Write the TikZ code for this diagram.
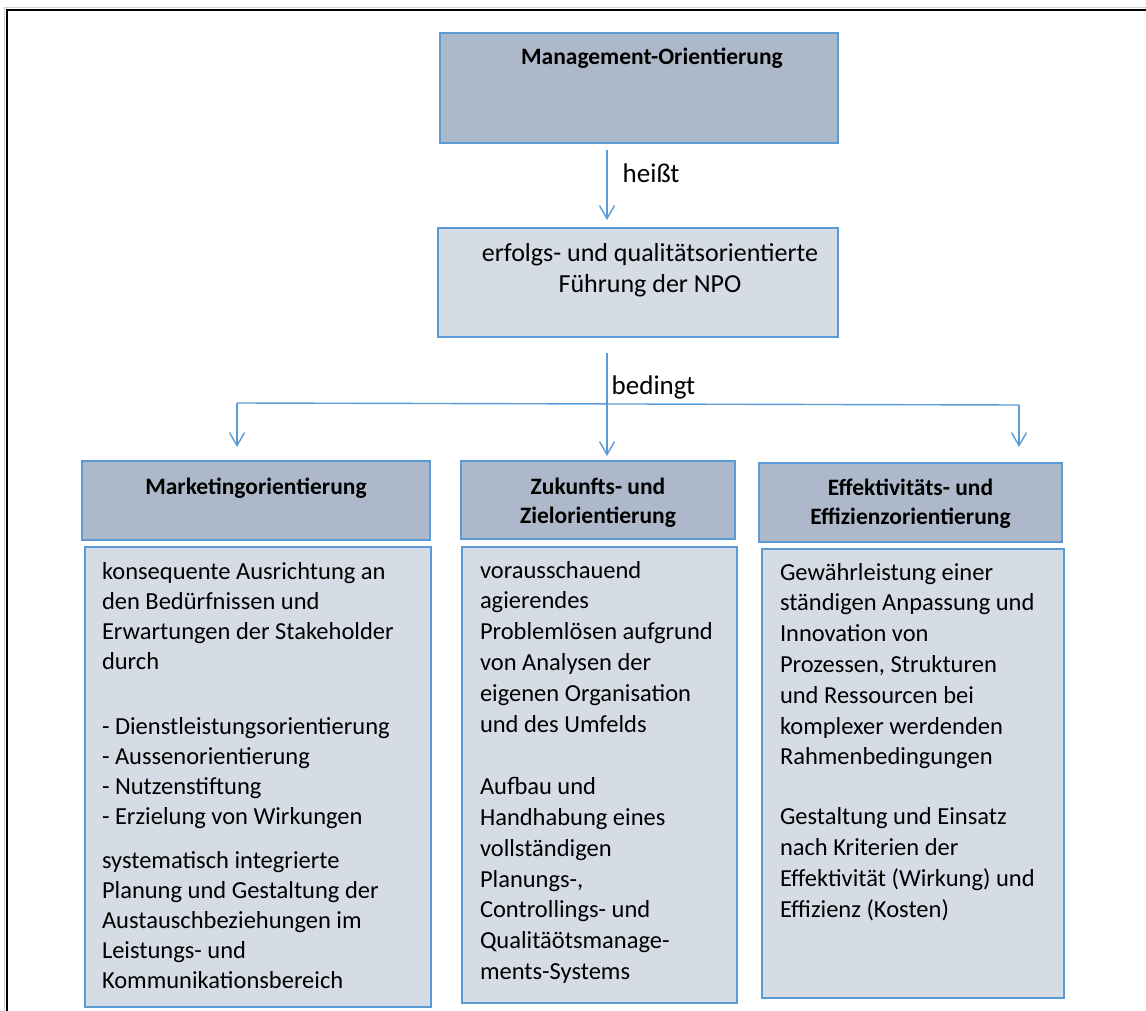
\documentclass[tikz,border=0pt]{standalone}
\usepackage{fontspec}
\setmainfont{Carlito}
\usepackage{tikz}
\usetikzlibrary{arrows.meta}
\usetikzlibrary{positioning}
\definecolor{boxline}{RGB}{91,155,213}
\definecolor{darkfill}{RGB}{173,185,202}
\definecolor{lightfill}{RGB}{214,220,229}
\tikzset{
    box/.style={
           rectangle,
           draw=boxline, line width=1.5pt,
           inner sep=0pt, outer sep=0pt,
           anchor=north west,
           },
    headbox/.style={box, fill=darkfill, font=\fontsize{23.5}{28.5}\selectfont\bfseries},
    textbox/.style={box, fill=lightfill, font=\fontsize{24.5}{30}\selectfont},
    link/.style={draw=boxline, line width=1.4pt},
    lbl/.style={anchor=west, inner sep=0pt, font=\fontsize{27}{32}\selectfont},
}
\newcommand{\boxtext}[5]{\hspace*{#1}\parbox[c][#2][t]{#3}{\rule{0pt}{#4}#5}}

\begin{document}
\begin{tikzpicture}[->,>={Straight Barb[length=13pt,width=15pt]},x=1pt,y=-1pt]

 \useasboundingbox (0,0) rectangle (1146,1011);
 \draw[-, gray!35, line width=1pt] (4.8,1011) -- (4.8,7.3) -- (1146,7.3);
 \draw[-, line width=2.5pt] (7,1011) -- (7,9.8) -- (1146,9.8);

 \node[headbox] (mgmt) at (440,33)
 {\boxtext{26pt}{110pt}{372pt}{31.5pt}{\centering Management-Orientierung}};
 \node[textbox, font=\fontsize{26}{31}\selectfont] (fuehrung) at (438,228)
 {\boxtext{24pt}{109pt}{376pt}{33pt}{\centering erfolgs- und qualitätsorientierte\\ Führung der NPO}};

 \node[headbox] (marketing) at (82,461)
 {\boxtext{0pt}{79pt}{348pt}{33.5pt}{\centering Marketingorientierung}};
 \node[headbox] (zukunft) at (461,461)
 {\boxtext{0pt}{78pt}{274pt}{33.5pt}{\centering Zukunfts- und\\ Zielorientierung}};
 \node[headbox] (effizienz) at (759,463)
 {\boxtext{0pt}{79pt}{303pt}{32.5pt}{\centering Effektivitäts- und\\ Effizienzorientierung}};

 \node[textbox] (marketingtext) at (85,547)
 {\boxtext{17pt}{460pt}{329pt}{32pt}{\raggedright
  konsequente Ausrichtung an\\
  den Bedürfnissen und\\
  Erwartungen der Stakeholder\\
  durch\\[35pt]
  - Dienstleistungsorientierung\\
  - Aussenorientierung\\
  - Nutzenstiftung\\
  - Erzielung von Wirkungen\\[14pt]
  systematisch integrierte\\
  Planung und Gestaltung der\\
  Austauschbeziehungen im\\
  Leistungs- und\\
  Kommunikationsbereich}};
 \node[textbox, font=\fontsize{24.5}{30.9}\selectfont] (zukunfttext) at (462,547)
 {\boxtext{18pt}{456pt}{257pt}{31pt}{\raggedright
  vorausschauend\\
  agierendes\\
  Problemlösen aufgrund\\
  von Analysen der\\
  eigenen Organisation\\
  und des Umfelds\\[30.9pt]
  Aufbau und\\
  Handhabung eines\\
  vollständigen\\
  Planungs-,\\
  Controllings- und\\
  Qualitäötsmanage-\\
  ments-Systems}};
 \node[textbox, font=\fontsize{24.5}{30.8}\selectfont] (effizienztext) at (762,549)
 {\boxtext{18pt}{449pt}{284pt}{31pt}{\raggedright
  Gewährleistung einer\\
  ständigen Anpassung und\\
  Innovation von\\
  Prozessen, Strukturen\\
  und Ressourcen bei\\
  komplexer werdenden\\
  Rahmenbedingungen\\[29pt]
  Gestaltung und Einsatz\\
  nach Kriterien der\\
  Effektivität (Wirkung) und\\
  Effizienz (Kosten)}};

 \coordinate (split) at (607,403);
 \coordinate (lsplit) at (237,403);
 \coordinate (rsplit) at (1019,405);

 \draw[link, shorten <=7pt, shorten >=8pt] (mgmt.south -| split) -- (fuehrung.north -| split)
  node[lbl, pos=0.35, xshift=15pt] (heisst) {heißt};
 \draw[link, shorten <=16pt, shorten >=5pt] (fuehrung.south -| split) -- (zukunft.north -| split)
  node[lbl, pos=0.41, xshift=4pt] (bedingt) {bedingt};
 \draw[link, -] (lsplit) -- (rsplit);
 \draw[link, shorten >=14pt] (lsplit) -- (lsplit |- marketing.north);
 \draw[link, shorten >=16pt] (rsplit) -- (rsplit |- effizienz.north);

\end{tikzpicture}
\end{document}
